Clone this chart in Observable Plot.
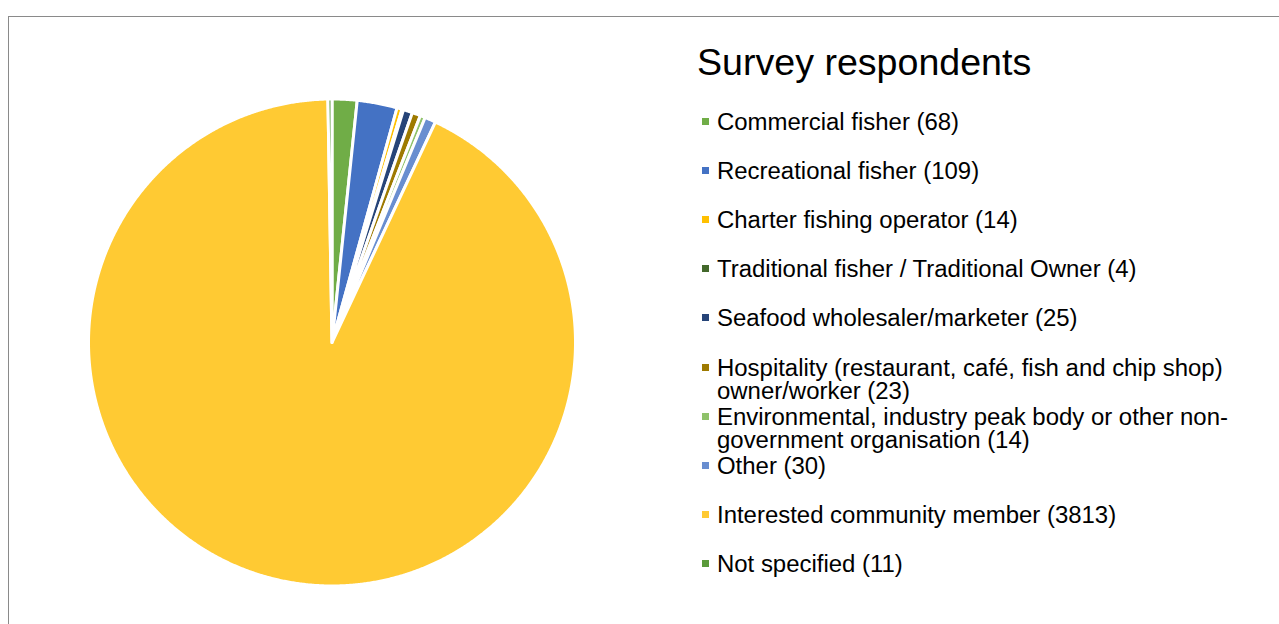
<!DOCTYPE html>
<html>
<head>
<meta charset="utf-8">
<script src="https://cdn.jsdelivr.net/npm/d3@7"></script>
<script src="https://cdn.jsdelivr.net/npm/@observablehq/plot@0.6"></script>
<style>
  html, body { margin: 0; padding: 0; background: #fff; overflow: hidden; width: 1279px; height: 624px; }
  body { font-family: "Liberation Sans", Arial, sans-serif; color: #000; position: relative; }
  #frame { position: absolute; left: 8px; top: 16px; width: 1300px; height: 700px; border: 1.5px solid #8a8a8a; box-sizing: border-box; }
  #chart { position: absolute; left: 0; top: 0; }
  #legend { position: absolute; left: 697px; top: 0; }
  #title { position: absolute; left: 0; top: 40px; font-size: 37.6px; white-space: nowrap; line-height: 44px; }
  .item { position: absolute; left: 5px; width: 540px; }
  .swatch { position: absolute; left: 0; width: 7px; height: 7px; }
  .label { position: absolute; left: 15px; width: 522px; font-size: 23.95px; line-height: 23px; }
</style>
</head>
<body>
<div id="frame"></div>
<div id="chart"></div>
<div id="legend"><div id="title">Survey respondents</div></div>
<script>
const categories = [
  "Commercial fisher",
  "Recreational fisher",
  "Charter fishing operator",
  "Traditional fisher / Traditional Owner",
  "Seafood wholesaler/marketer",
  "Hospitality (restaurant, café, fish and chip shop) owner/worker",
  "Environmental, industry peak body or other non-government organisation",
  "Other",
  "Interested community member",
  "Not specified"
];
const counts = [68, 109, 14, 4, 25, 23, 14, 30, 3813, 11];
const colors = ["#70ad47", "#4472c4", "#ffc000", "#43682b", "#264478", "#9e7a00", "#8fc26a", "#698ed0", "#ffca33", "#5a9a3a"];

const table = categories.map((c, i) => ({cat: c, count: counts[i], color: colors[i]}));

// Pie angles computed by d3.pie, clockwise from 12 o'clock
const arcs = d3.pie().sort(null).value(d => d.count)(table);
const points = [];
for (const a of arcs) {
  const steps = Math.max(2, Math.ceil((a.endAngle - a.startAngle) / 0.005));
  points.push({cat: a.data.cat, x: 0, y: 0});
  for (let k = 0; k <= steps; k++) {
    const t = a.startAngle + (a.endAngle - a.startAngle) * k / steps;
    points.push({cat: a.data.cat, x: Math.sin(t), y: Math.cos(t)});
  }
  points.push({cat: a.data.cat, x: 0, y: 0});
}

const cx = 331.5, cy = 342, r = 243.5;
const plot = Plot.plot({
  width: 1279,
  height: 624,
  margin: 0,
  style: {background: "transparent"},
  x: {domain: [-1, 1], range: [cx - r, cx + r], axis: null},
  y: {domain: [-1, 1], range: [cy + r, cy - r], axis: null},
  color: {domain: categories, range: colors},
  marks: [
    Plot.line(points, {x: "x", y: "y", z: "cat", fill: "cat", stroke: "white", strokeWidth: 3, strokeLinejoin: "round", curve: "linear"})
  ]
});
document.getElementById("chart").appendChild(plot);

// Legend
const legend = document.getElementById("legend");
const legendLabels = categories.map((c, i) => `${c} (${counts[i]})`);
legendLabels.forEach((lab, i) => {
  const yc = 121 + 49.2 * i;
  const item = document.createElement("div");
  item.className = "item";
  item.style.top = (yc - 11.5) + "px";
  const sw = document.createElement("div");
  sw.className = "swatch";
  sw.style.background = colors[i];
  sw.style.top = (11.5 - 3.5) + "px";
  const tx = document.createElement("div");
  tx.className = "label";
  tx.textContent = lab;
  item.appendChild(sw);
  item.appendChild(tx);
  legend.appendChild(item);
});
</script>
</body>
</html>
